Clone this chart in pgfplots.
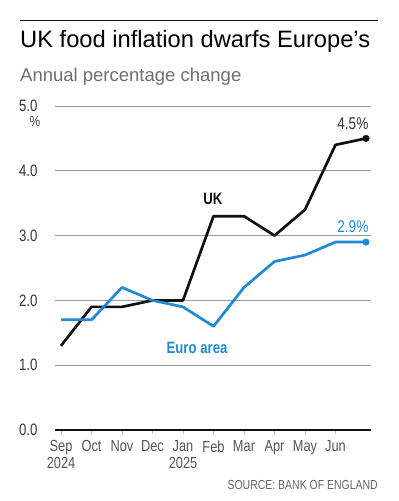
\documentclass[border=0pt]{standalone}
\usepackage{pgfplots}
\pgfplotsset{compat=1.18}
\usepackage{fontspec}
\setmainfont{Liberation Sans}
\newfontfamily\cond[FakeStretch=0.8]{Liberation Sans}
\definecolor{ukblack}{HTML}{111111}
\definecolor{eublue}{HTML}{1F8BD3}
\definecolor{gridgray}{HTML}{9A9A9A}
\definecolor{txtgray}{HTML}{555555}
\definecolor{subgray}{HTML}{6E6E6E}
\begin{document}
\begin{tikzpicture}[x=1pt,y=1pt]
\useasboundingbox (0,0) rectangle (399,501);
\draw[ukblack, line width=0.8pt] (20,481) -- (378,481);
\node[anchor=base west, inner sep=0pt, font=\fontsize{23.7}{26}\selectfont] at (20,453) {UK food inflation dwarfs Europe's};
\node[anchor=base west, inner sep=0pt, text=subgray, font=\fontsize{18.5}{21}\selectfont] at (20,419) {Annual percentage change};
\begin{axis}[
  at={(55pt,71pt)}, anchor=south west,
  scale only axis, width=316pt, height=324pt,
  xmin=-0.197, xmax=10.164, ymin=0, ymax=5,
  axis line style={draw=none},
  ymajorgrids, grid style={gridgray, line width=0.7pt},
  ytick={1,2,3,4,5},
  yticklabels={1.0,2.0,3.0,4.0,5.0},
  extra y ticks={0},
  extra y tick labels={0.0},
  extra y tick style={grid=major, grid style={ukblack, line width=2pt}},
  xtick={0,...,9},
  xtick pos=bottom, ytick pos=left,
  xticklabels={{Sep\\2024},Oct,Nov,Dec,{Jan\\2025},Feb,Mar,Apr,May,Jun},
  xticklabel style={align=center, anchor=north, text=txtgray, font=\cond\fontsize{16}{17}\selectfont, yshift=-3pt},
  yticklabel style={text=ukblack!85, font=\cond\fontsize{16.5}{18}\selectfont, xshift=-10pt},
  tick align=outside, major tick length=4pt,
  xtick style={gridgray!60, line width=0.8pt},
  ytick style={draw=none},
  clip=false,
]
\addplot[ukblack, line width=2.7pt, line join=round] coordinates {
(0,1.3) (1,1.9) (2,1.9) (3,2.0) (4,2.0) (5,3.3) (6,3.3) (7,3.0) (8,3.4) (9,4.4) (10,4.5)};
\addplot[eublue, line width=2.7pt, line join=round] coordinates {
(0,1.7) (1,1.7) (2,2.2) (3,2.0) (4,1.9) (5,1.6) (6,2.2) (7,2.6) (8,2.7) (9,2.9) (10,2.9)};
\addplot[only marks, mark=*, mark size=3.3pt, ukblack] coordinates {(10,4.5)};
\addplot[only marks, mark=*, mark size=3.3pt, eublue] coordinates {(10,2.9)};
\node[font=\cond\fontsize{17}{19}\selectfont, text=ukblack!85] at (axis cs:9.57,4.72) {4.5\%};
\node[font=\cond\fontsize{17}{19}\selectfont, text=eublue] at (axis cs:9.57,3.14) {2.9\%};
\node[font=\cond\bfseries\fontsize{16.5}{18}\selectfont, text=ukblack] at (axis cs:4.98,3.57) {UK};
\node[font=\cond\bfseries\fontsize{16.5}{18}\selectfont, text=eublue] at (axis cs:4.46,1.26) {Euro area};
\node[font=\cond\fontsize{14.5}{16}\selectfont, text=ukblack!80] at (axis cs:-0.85,4.76) {\%};
\end{axis}
\node[anchor=east, inner sep=0pt, text=txtgray!90, font=\cond\fontsize{13.1}{15}\selectfont] at (378,16) {SOURCE: BANK OF ENGLAND};
\end{tikzpicture}
\end{document}
